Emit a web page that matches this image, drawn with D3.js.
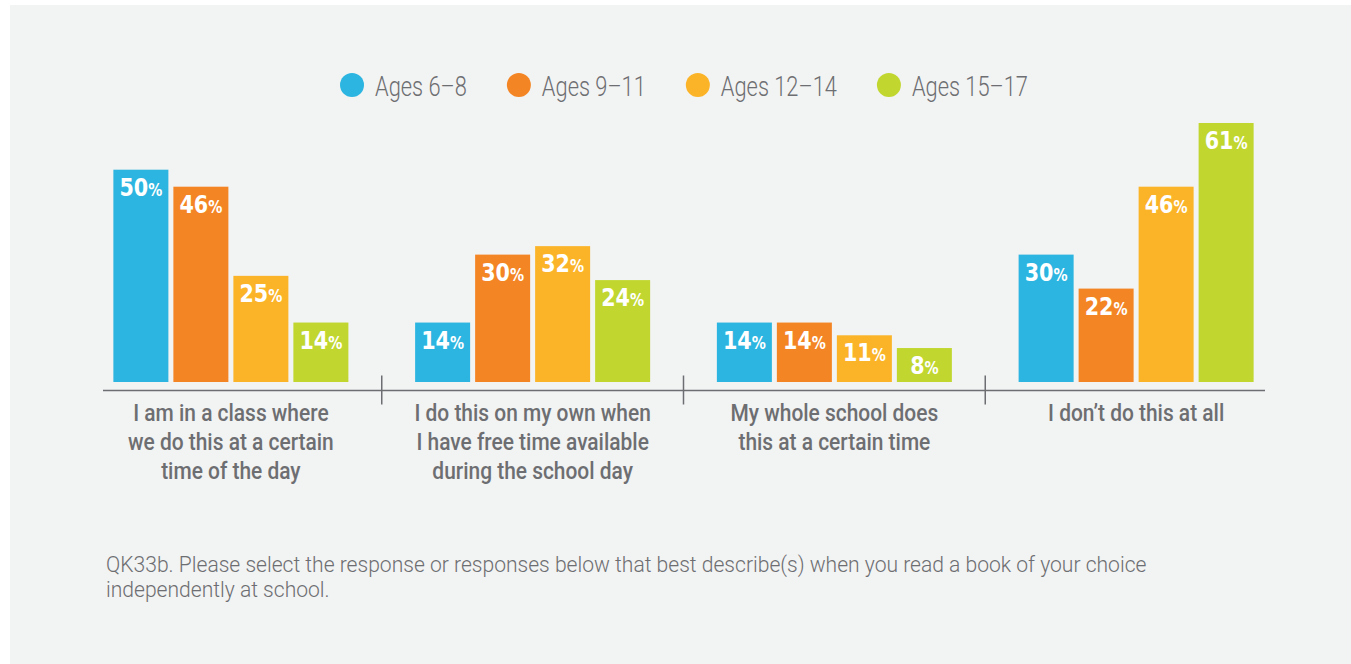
<!DOCTYPE html>
<html>
<head>
<meta charset="utf-8">
<script src="https://cdn.jsdelivr.net/npm/d3@7"></script>
<style>
  body { margin: 0; background: #fff; }
  svg { display: block; }
  .legendText, .catLabel, .note { font-family: Roboto, "DejaVu Sans Condensed", sans-serif; fill: #6d6e71; }
  .valLabel { font-family: "DejaVu Sans Condensed", Roboto, sans-serif; fill: #fff; font-weight: bold; }
</style>
</head>
<body>
<script>
(function(){

//chart data
var categories = ["class", "own", "whole", "none"];
var categoryLines = [
    ["I am in a class where", "we do this at a certain", "time of the day"],
    ["I do this on my own when", "I have free time available", "during the school day"],
    ["My whole school does", "this at a certain time"],
    ["I don\u2019t do this at all"]
];
var seriesNames = ["Ages 6\u20138", "Ages 9\u201311", "Ages 12\u201314", "Ages 15\u201317"];
var ages6to8 = [50, 14, 14, 30];
var ages9to11 = [46, 30, 14, 22];
var ages12to14 = [25, 32, 11, 46];
var ages15to17 = [14, 24, 8, 61];
var seriesValues = [ages6to8, ages9to11, ages12to14, ages15to17];
var colors = ["#2cb5e0", "#f48524", "#fbb428", "#c1d72f"];
var note = [
    "QK33b. Please select the response or responses below that best describe(s) when you read a book of your choice",
    "independently at school."
];

var width = 1351,
    height = 664;

//the original type is narrow, so text is squeezed sideways a little
var legendSqueeze = 0.78,
    catSqueeze = 0.91,
    noteSqueeze = 0.958;

var svg = d3.select("body")
    .append("svg")
    .attr("width", width)
    .attr("height", height);

//light grey panel
svg.append("rect")
    .attr("x", 10)
    .attr("y", 5)
    .attr("width", width - 10)
    .attr("height", height - 5)
    .attr("fill", "#f2f3f3");

//scales
var x0 = d3.scaleBand()
    .domain(categories)
    .range([80, 1287]);

var x1 = d3.scaleBand()
    .domain(seriesNames)
    .range([-120, 120])
    .paddingInner(1/12)
    .paddingOuter(1/24);

var y = d3.scaleLinear()
    .domain([0, 61])
    .range([382, 123]);

//build rows for each bar
var rows = [];
categories.forEach(function(c, i){
    seriesNames.forEach(function(s, j){
        rows.push({cat: c, series: s, value: seriesValues[j][i], color: colors[j]});
    });
});

var bars = svg.selectAll(".bar")
    .data(rows)
    .enter()
    .append("g")
    .attr("class", "bar")
    .attr("transform", function(d){
        return "translate(" + (x0(d.cat) + x0.bandwidth() / 2) + ",0)";
    });

bars.append("rect")
    .attr("x", function(d){ return x1(d.series); })
    .attr("y", function(d){ return y(d.value); })
    .attr("width", x1.bandwidth())
    .attr("height", function(d){ return y(0) - y(d.value); })
    .attr("fill", function(d){ return d.color; });

var vt = bars.append("text")
    .attr("class", "valLabel")
    .attr("transform", function(d){
        return "translate(" + (x1(d.series) + x1.bandwidth() / 2) + "," + (y(d.value) + 26) + ") scale(0.92,1)";
    })
    .attr("text-anchor", "middle");
vt.append("tspan")
    .style("font-size", "25px")
    .text(function(d){ return d.value; });
vt.append("tspan")
    .style("font-size", "17px")
    .text("%");

//axis line and group separators
var axisY = 390.5;
svg.append("line")
    .attr("x1", 103)
    .attr("x2", 1265)
    .attr("y1", axisY)
    .attr("y2", axisY)
    .attr("stroke", "#6d6e71")
    .attr("stroke-width", 1.5);

svg.selectAll(".sep")
    .data(categories.slice(1))
    .enter()
    .append("line")
    .attr("class", "sep")
    .attr("x1", function(d){ return x0(d); })
    .attr("x2", function(d){ return x0(d); })
    .attr("y1", axisY - 15)
    .attr("y2", axisY + 14)
    .attr("stroke", "#6d6e71")
    .attr("stroke-width", 1.5);

//category labels
var cl = svg.selectAll(".catLabel")
    .data(categories)
    .enter()
    .append("text")
    .attr("class", "catLabel")
    .attr("text-anchor", "middle")
    .attr("transform", function(d){
        return "translate(" + (x0(d) + x0.bandwidth() / 2) + ",0) scale(" + catSqueeze + ",1)";
    })
    .style("font-size", "23px")
    .style("font-weight", "500");
cl.selectAll("tspan")
    .data(function(d, i){ return categoryLines[i]; })
    .enter()
    .append("tspan")
    .attr("x", 0)
    .attr("y", function(d, k){ return 421 + k * 29; })
    .text(function(d){ return d; });

//legend, laid out from measured text widths
var legend = svg.append("g").attr("class", "legend");
var lx = 0;
seriesNames.forEach(function(s, j){
    var item = legend.append("g").attr("transform", "translate(" + lx + ",0)");
    item.append("circle")
        .attr("cx", 12)
        .attr("cy", 85)
        .attr("r", 12)
        .attr("fill", colors[j]);
    var t = item.append("text")
        .attr("class", "legendText")
        .attr("transform", "translate(35,96) scale(" + legendSqueeze + ",1)")
        .style("font-size", "28px")
        .style("font-weight", "300")
        .text(s);
    lx += 35 + t.node().getComputedTextLength() * legendSqueeze + 40;
});
lx -= 40;
legend.attr("transform", "translate(" + (684 - lx / 2) + ",0)");

//footnote
svg.selectAll(".note")
    .data(note)
    .enter()
    .append("text")
    .attr("class", "note")
    .attr("transform", function(d, i){
        return "translate(106," + (572 + i * 25) + ") scale(" + noteSqueeze + ",1)";
    })
    .style("font-size", "22px")
    .style("font-weight", "300")
    .text(function(d){ return d; });

})();
</script>
</body>
</html>
